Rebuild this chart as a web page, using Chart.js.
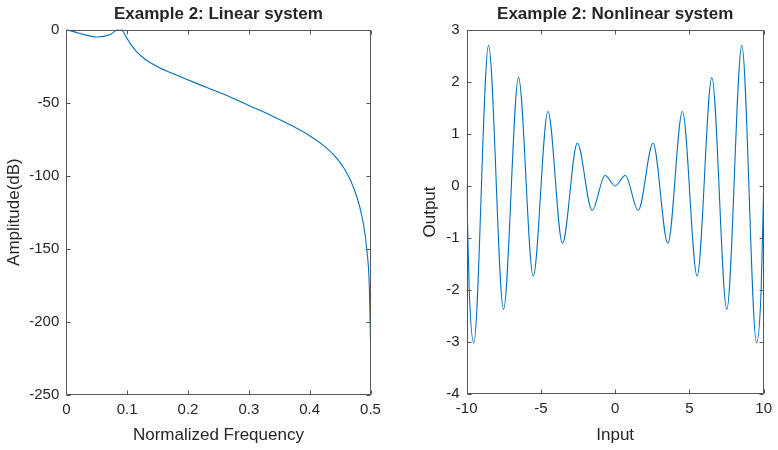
<!DOCTYPE html>
<html>
<head>
<meta charset="utf-8">
<script src="https://cdn.jsdelivr.net/npm/chart.js@4.4.1/dist/chart.umd.min.js"></script>
<style>
    body { margin: 0; background: #fff; }
    canvas { position: absolute; top: 0; }
    #linearChart { left: 0; }
    #nonlinearChart { left: 389px; }
</style>
</head>
<body>
<canvas id="linearChart" width="389" height="450"></canvas>
<canvas id="nonlinearChart" width="389" height="450"></canvas>
<script>
// Left plot: amplitude response of the linear system
const freqX = [0, 0.0225, 0.05, 0.072, 0.084, 0.088, 0.091, 0.097, 0.105, 0.115, 0.130, 0.150, 0.180, 0.210,
    0.263, 0.300, 0.340, 0.370, 0.400, 0.420, 0.440, 0.455, 0.468, 0.478, 0.486, 0.491, 0.494, 0.4965, 0.498, 0.5];
const ampDb = [0, -2.7, -5.1, -3.4, 0, 0.6, 0, -4, -9.5, -15, -20.5, -25.5, -31, -36.2,
    -45, -52, -59.5, -65.7, -72.7, -78.5, -86, -94, -104, -115, -128, -140, -151, -162, -175, -213];
const freqTicks = [0, 0.1, 0.2, 0.3, 0.4, 0.5];
const ampTicks = [-250, -200, -150, -100, -50, 0];

// Right plot: output of the nonlinear system (extrema)
const inputX = [-10, -9.83, -9.52, -8.53, -7.52, -6.51, -5.52, -4.53, -3.55, -2.55, -1.55, -0.68, 0,
    0.68, 1.55, 2.55, 3.55, 4.53, 5.52, 6.51, 7.52, 8.53, 9.52, 9.83, 10];
const outputY = [0, -2.0, -3.01, 2.70, -2.37, 2.08, -1.73, 1.43, -1.10, 0.82, -0.47, 0.20, 0,
    0.20, -0.47, 0.82, -1.10, 1.43, -1.73, 2.08, -2.37, 2.70, -3.01, -2.0, 0];
const inputTicks = [-10, -5, 0, 5, 10];
const outputTicks = [-4, -3, -2, -1, 0, 1, 2, 3];

const FONT = "'Liberation Sans', Arial, sans-serif";
const TEXT_COLOR = "#262626";
const AXIS_COLOR = "#555";
const LINE_COLOR = "#0072BD";

// matlab style box with inward ticks on all four sides
const boxTicks = {
    id: "boxTicks",
    afterDatasetsDraw(chart) {
        const { ctx, chartArea: a, scales: { x, y } } = chart;
        const L = Math.round(a.left) + 0.5, R = Math.round(a.right) - 0.5;
        const T = Math.round(a.top) + 0.5, B = Math.round(a.bottom) - 0.5;
        const len = 4;
        ctx.save();
        ctx.strokeStyle = AXIS_COLOR;
        ctx.lineWidth = 1;
        ctx.beginPath();
        ctx.rect(L, T, R - L, B - T);
        x.ticks.forEach(t => {
            const px = Math.round(x.getPixelForValue(t.value)) + 0.5;
            ctx.moveTo(px, B); ctx.lineTo(px, B - len);
            ctx.moveTo(px, T); ctx.lineTo(px, T + len);
        });
        y.ticks.forEach(t => {
            const py = Math.round(y.getPixelForValue(t.value)) + 0.5;
            ctx.moveTo(L, py); ctx.lineTo(L + len, py);
            ctx.moveTo(R, py); ctx.lineTo(R - len, py);
        });
        ctx.stroke();
        ctx.restore();
    }
};

function makeChart(canvasId, title, xs, ys, xLabel, yLabel, xTicks, yTicks, box) {
    const ctx = document.getElementById(canvasId).getContext("2d");
    return new Chart(ctx, {
        type: "line",
        data: {
            datasets: [{
                data: xs.map((v, i) => ({ x: v, y: ys[i] })),
                borderColor: LINE_COLOR,
                borderWidth: 1.1,
                pointRadius: 0,
                fill: false,
                cubicInterpolationMode: "monotone"
            }]
        },
        options: {
            responsive: false,
            animation: false,
            events: [],
            layout: { padding: { left: 0, right: box.right, top: 0, bottom: 0 } },
            plugins: {
                legend: { display: false },
                tooltip: { enabled: false },
                title: {
                    display: true,
                    text: title,
                    fullSize: false,
                    color: TEXT_COLOR,
                    font: { family: FONT, size: 17, weight: "bold" },
                    padding: { top: 4.5, bottom: box.top - 4.5 - 20.4 }
                }
            },
            scales: {
                x: {
                    type: "linear",
                    min: xTicks[0],
                    max: xTicks[xTicks.length - 1],
                    grid: { display: false, drawTicks: false, tickLength: 0 },
                    border: { display: false },
                    afterBuildTicks: s => { s.ticks = xTicks.map(v => ({ value: v })); },
                    afterFit: s => { s.height = box.xHeight; },
                    ticks: { color: TEXT_COLOR, padding: 6, maxRotation: 0, font: { family: FONT, size: 15 } },
                    title: {
                        display: true, text: xLabel, color: TEXT_COLOR,
                        font: { family: FONT, size: 17 }, padding: { top: 0, bottom: 4.5 }
                    }
                },
                y: {
                    type: "linear",
                    min: yTicks[0],
                    max: yTicks[yTicks.length - 1],
                    grid: { display: false, drawTicks: false, tickLength: 0 },
                    border: { display: false },
                    afterBuildTicks: s => { s.ticks = yTicks.map(v => ({ value: v })); },
                    afterFit: s => { s.width = box.yWidth; },
                    ticks: { color: TEXT_COLOR, padding: 7, font: { family: FONT, size: 15 } },
                    title: {
                        display: true, text: yLabel, color: TEXT_COLOR,
                        font: { family: FONT, size: 17 }, padding: { top: box.yTitle, bottom: 0 }
                    }
                }
            }
        },
        plugins: [boxTicks]
    });
}

makeChart("linearChart", "Example 2: Linear system", freqX, ampDb,
    "Normalized Frequency", "Amplitude(dB)", freqTicks, ampTicks,
    { right: 18.5, top: 29.5, xHeight: 55.3, yWidth: 66.3, yTitle: 4.5 });

makeChart("nonlinearChart", "Example 2: Nonlinear system", inputX, outputY,
    "Input", "Output", inputTicks, outputTicks,
    { right: 9, top: 29.7, xHeight: 55.7, yWidth: 77.7, yTitle: 31.5 });
</script>
</body>
</html>
